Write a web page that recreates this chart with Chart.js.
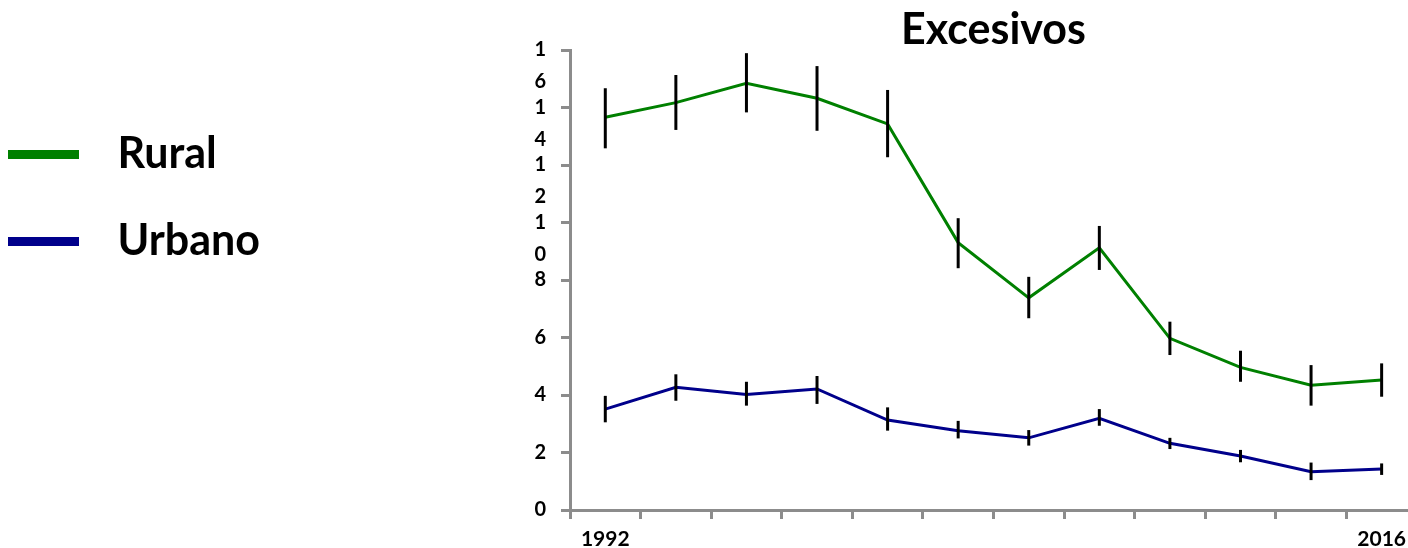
<!DOCTYPE html>
<html>
<head>
<meta charset="utf-8">
<script src="https://cdn.jsdelivr.net/npm/chart.js@4"></script>
<style>
  html, body { margin: 0; padding: 0; overflow: hidden; background: #fff; }
  canvas { display: block; }
</style>
</head>
<body>
<canvas id="c" width="1417" height="548"></canvas>
<script>
// ---- data ----
const xTickLabels = ['1992', '', '', '', '', '', '', '', '', '', '', '2016'];
const seriesNames = ['Rural', 'Urbano'];
const rural     = [13.66, 14.17, 14.84, 14.32, 13.43, 9.30, 7.38, 9.12, 5.97, 4.96, 4.34, 4.52];
const ruralLow  = [12.58, 13.22, 13.83, 13.19, 12.27, 8.41, 6.67, 8.35, 5.39, 4.46, 3.63, 3.94];
const ruralHigh = [14.67, 15.13, 15.89, 15.44, 14.61, 10.15, 8.11, 9.88, 6.55, 5.54, 5.04, 5.10];
const urban     = [3.51, 4.27, 4.02, 4.21, 3.13, 2.76, 2.51, 3.19, 2.32, 1.88, 1.33, 1.43];
const urbanLow  = [3.05, 3.80, 3.63, 3.69, 2.76, 2.49, 2.24, 2.93, 2.12, 1.66, 1.04, 1.22];
const urbanHigh = [3.97, 4.72, 4.46, 4.66, 3.57, 3.10, 2.78, 3.51, 2.51, 2.09, 1.65, 1.62];
const yMin = 0, yMax = 16, yStep = 2;
const titleText = 'Excesivos';

const GREEN = '#008000';
const BLUE = '#00008B';
const AXIS = '#8c8c8c';

Chart.defaults.font.family = 'Lato';

function swatch(color) {
  const c = document.createElement('canvas');
  c.width = 88; c.height = 9;
  const g = c.getContext('2d');
  g.fillStyle = color;
  g.fillRect(0, 0, 71, 9);
  return c;
}

const errorBars = {
  id: 'errorBars',
  afterDatasetsDraw(chart) {
    const { ctx, scales: { y } } = chart;
    chart.data.datasets.forEach((ds, i) => {
      const meta = chart.getDatasetMeta(i);
      ctx.save();
      ctx.strokeStyle = '#000';
      ctx.lineWidth = 3;
      meta.data.forEach((pt, j) => {
        ctx.beginPath();
        ctx.moveTo(pt.x, y.getPixelForValue(ds.errLow[j]));
        ctx.lineTo(pt.x, y.getPixelForValue(ds.errHigh[j]));
        ctx.stroke();
      });
      ctx.restore();
    });
  }
};

new Chart(document.getElementById('c'), {
  type: 'line',
  data: {
    labels: xTickLabels,
    datasets: [
      { label: seriesNames[0], data: rural, errLow: ruralLow, errHigh: ruralHigh,
        borderColor: GREEN, backgroundColor: GREEN, borderWidth: 3,
        pointRadius: 0, pointHoverRadius: 0, tension: 0, pointStyle: swatch(GREEN) },
      { label: seriesNames[1], data: urban, errLow: urbanLow, errHigh: urbanHigh,
        borderColor: BLUE, backgroundColor: BLUE, borderWidth: 3,
        pointRadius: 0, pointHoverRadius: 0, tension: 0, pointStyle: swatch(BLUE) }
    ]
  },
  options: {
    responsive: false,
    animation: false,
    layout: { padding: 0 },
    plugins: {
      tooltip: { enabled: false },
      title: {
        display: true, text: titleText, fullSize: false, color: '#000',
        font: { size: 43, weight: 'bold', lineHeight: '40px' },
        padding: { top: 10, bottom: 0 }
      },
      legend: {
        position: 'left', align: 'start',
        title: { display: true, text: '', padding: 0, font: { size: 12, lineHeight: '125px' } },
        labels: {
          usePointStyle: true, pointStyleWidth: 88, padding: 8, color: '#000',
          font: { size: 43, weight: 'bold', lineHeight: '79px' },
          generateLabels: (chart) => Chart.defaults.plugins.legend.labels.generateLabels(chart)
            .map(l => Object.assign(l, { text: [l.text] }))
        }
      }
    },
    scales: {
      x: {
        type: 'category', offset: true,
        afterFit: (scale) => { scale.height = 38; },
        grid: { offset: true, drawOnChartArea: false, drawTicks: true, tickLength: 9, color: AXIS, lineWidth: 3 },
        border: { display: true, color: AXIS, width: 3 },
        ticks: { autoSkip: false, maxRotation: 0, minRotation: 0, padding: 11, color: '#000',
          font: { size: 21, weight: 'bold', lineHeight: '18px' } }
      },
      y: {
        min: yMin, max: yMax,
        afterFit: (scale) => {
          scale.width = 570 - (scale.chart.legend ? scale.chart.legend.width : 0);
          scale.paddingTop = 0;
          scale.paddingBottom = 0;
        },
        grid: { drawOnChartArea: false, drawTicks: true, tickLength: 9, color: AXIS, lineWidth: 3 },
        border: { display: true, color: AXIS, width: 3 },
        ticks: {
          stepSize: yStep, autoSkip: false, padding: 15, color: '#000',
          font: { size: 20, weight: 'bold', lineHeight: '32px' },
          callback: (v) => { const s = String(v); return s.length > 1 ? ['', ...s.split('')] : s; }
        }
      }
    }
  },
  plugins: [errorBars]
});
</script>
</body>
</html>
